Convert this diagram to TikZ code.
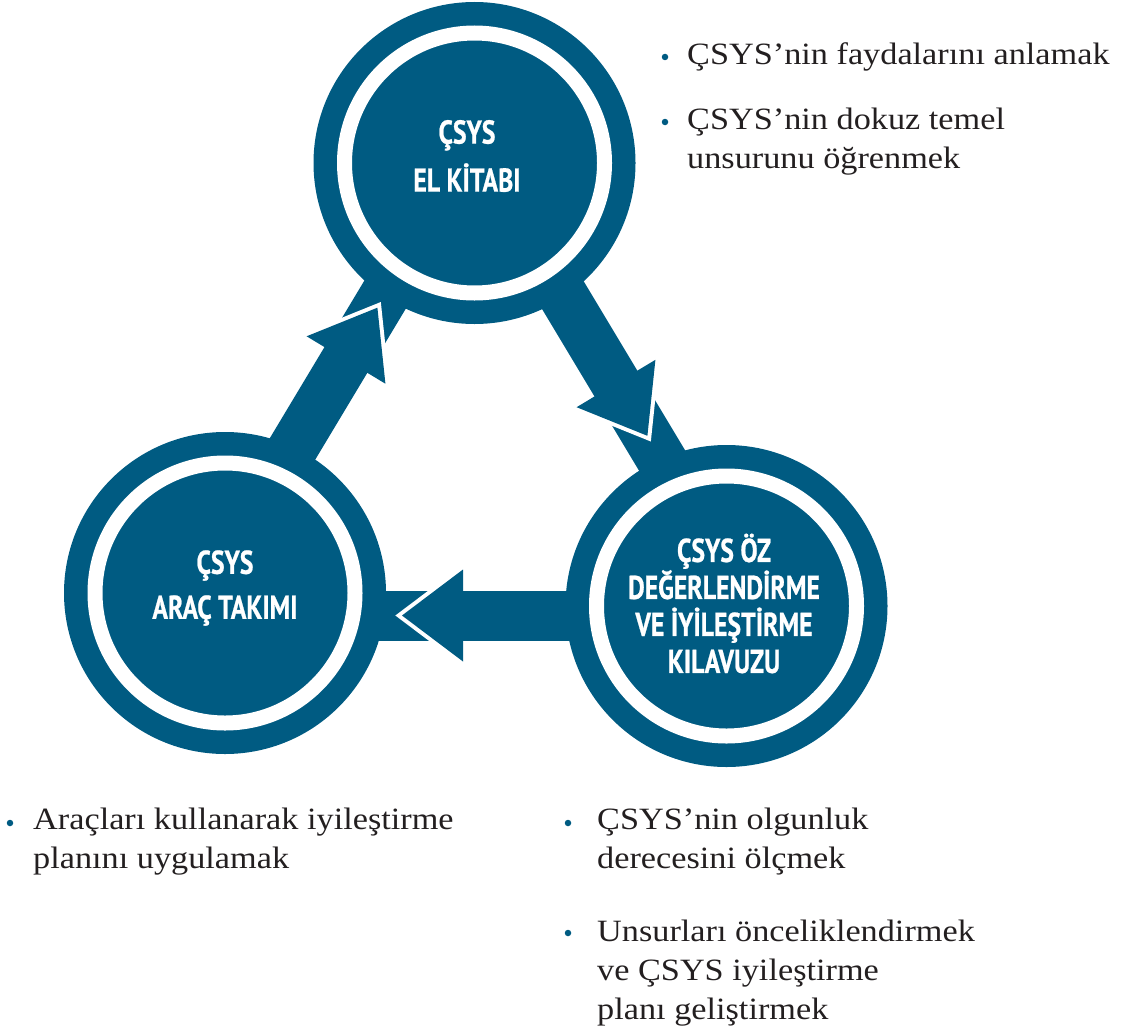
\documentclass[tikz,border=0pt]{standalone}
\usepackage{fontspec}
\setmainfont{Liberation Serif}[FakeStretch=1.105]
\newfontfamily\headfont{PT Sans}[FakeStretch=0.78, FakeBold=0.7]
\definecolor{csysblue}{RGB}{0,91,130}
\definecolor{textgray}{RGB}{35,31,32}
\begin{document}
\begin{tikzpicture}[x=1pt,y=-1pt,
  band/.style={line width=50pt, draw=csysblue},
  ringnode/.style={circle, fill=csysblue, minimum size=322pt, inner sep=0pt},
  gap/.style={draw=white, line width=15pt},
  headoutline/.style={draw=white, line width=8pt, line join=miter},
  headfill/.style={fill=csysblue},
  headtxt/.style={text=white, font=\headfont\bfseries\fontsize{33pt}{#1}\selectfont, align=center, inner sep=0pt},
  item/.style={text=textgray, font=\fontsize{31pt}{39pt}\selectfont, align=left, inner sep=0pt, anchor=north west},
  bullet/.style={circle, fill=csysblue, inner sep=0pt, minimum size=6.5pt}
]
\useasboundingbox (0,0) rectangle (1126,1033);

% band end points (inside the circles)
\coordinate (a1s) at (222.4,565.7);
\coordinate (a1e) at (423,231.5);
\coordinate (a2s) at (492.4,177.8);
\coordinate (a2e) at (693,512);
\coordinate (a3s) at (720,615.5);
\coordinate (a3e) at (300,615.5);

\draw[band] (a1s) -- (a1e);
\draw[band] (a2s) -- (a2e);
\draw[band] (a3s) -- (a3e);

% circles
\node[ringnode] (kitap) at (474.5,163) {};
\node[ringnode] (arac) at (225,593) {};
\node[ringnode] (oz) at (726.5,606) {};
\foreach \n in {kitap,arac,oz}
  \draw[gap] (\n.center) circle[radius=130pt];

% arrow heads
\coordinate (h1a) at (385.4,383.7);
\coordinate (h1t) at (377.4,307.7);
\coordinate (h1b) at (306.6,336.3);
\coordinate (h2a) at (655.4,359.8);
\coordinate (h2t) at (647.4,435.8);
\coordinate (h2b) at (576.6,407.2);
\coordinate (h3a) at (463,569.5);
\coordinate (h3t) at (402,615.5);
\coordinate (h3b) at (463,661.5);
\foreach \h in {1,2,3}{
  \draw[headoutline] (h\h a) -- (h\h t) -- (h\h b);
  \fill[headfill] (h\h a) -- (h\h t) -- (h\h b) -- cycle;
}

% circle texts
\node[headtxt=48pt] (t1) at (467,156) {ÇSYS\\EL KİTABI};
\node[headtxt=45pt] (t2) at (225,588) {ÇSYS\\ARAÇ TAKIMI};
\node[headtxt=37pt] (t3) at (724,603.5) {ÇSYS ÖZ\\DEĞERLENDİRME\\VE İYİLEŞTİRME\\KILAVUZU};

% bullet texts
\node[bullet] (b1) at (665,57) {};
\node[item] (i1) at (687,37) {\strut ÇSYS’nin faydalarını anlamak};
\node[bullet] (b2) at (665,122) {};
\node[item] (i2) at (687,102) {\strut ÇSYS’nin dokuz temel\\unsurunu öğrenmek};
\node[bullet] (b3) at (10,823) {};
\node[item] (i3) at (33,802) {\strut Araçları kullanarak iyileştirme\\planını uygulamak};
\node[bullet] (b4) at (568,823) {};
\node[item] (i4) at (597,802) {\strut ÇSYS’nin olgunluk\\derecesini ölçmek};
\node[bullet] (b5) at (568,933) {};
\node[item] (i5) at (597,914) {\strut Unsurları önceliklendirmek\\ve ÇSYS iyileştirme\\planı geliştirmek};
\end{tikzpicture}
\end{document}
